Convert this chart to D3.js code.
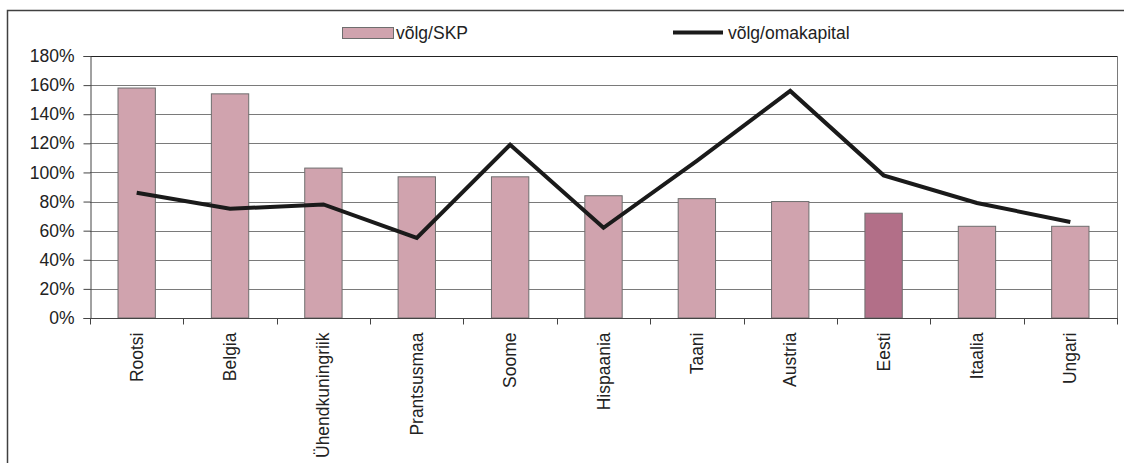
<!DOCTYPE html>
<html>
<head>
<meta charset="utf-8">
<script src="https://cdn.jsdelivr.net/npm/d3@7"></script>
<style>
  body { margin: 0; background: #fff; }
  svg { display: block; font-family: "Liberation Sans", Arial, sans-serif; }
</style>
</head>
<body>
<svg width="1124" height="463"></svg>
<script>
// data
var countries = ["Rootsi", "Belgia", "Ühendkuningriik", "Prantsusmaa", "Soome", "Hispaania",
                 "Taani", "Austria", "Eesti", "Itaalia", "Ungari"];
var debtGdp = [158, 154, 103, 97, 97, 84, 82, 80, 72, 63, 63];          // võlg/SKP
var debtEquity = [86, 75, 78, 55, 119, 62, 108, 156, 98, 79, 66];      // võlg/omakapital
var yTicks = [0, 20, 40, 60, 80, 100, 120, 140, 160, 180];
var highlight = "Eesti";

var fontSize = 17.5;
var svg = d3.select("svg");
var margin = { left: 90, top: 56, right: 1117, bottom: 318 };

// outer frame (runs off the right/bottom edge like the original)
svg.append("path")
    .attr("d", "M7.5,470 V10.5 H1130")
    .attr("fill", "none")
    .attr("stroke", "#404040")
    .attr("stroke-width", 1.5);

var x = d3.scaleBand()
    .domain(countries)
    .range([margin.left, margin.right])
    .paddingInner(0.6)
    .paddingOuter(0.3);

var xOuter = d3.scaleBand().domain(countries).range([margin.left, margin.right]);

var y = d3.scaleLinear().domain([0, 180]).range([margin.bottom, margin.top]);

// gridlines
svg.append("g")
    .selectAll("line")
    .data(yTicks.slice(1))
    .enter()
    .append("line")
    .attr("x1", margin.left).attr("x2", margin.right)
    .attr("y1", function (d) { return Math.round(y(d)) + 0.5; })
    .attr("y2", function (d) { return Math.round(y(d)) + 0.5; })
    .attr("stroke", function (d) { return d == 180 ? "#222" : "#7a7a7a"; })
    .attr("stroke-width", 1);

// right side of plot area
svg.append("line")
    .attr("x1", margin.right + 0.5).attr("x2", margin.right + 0.5)
    .attr("y1", margin.top).attr("y2", margin.bottom)
    .attr("stroke", "#7a7a7a");

// bars
svg.append("g")
    .selectAll("rect")
    .data(countries)
    .enter()
    .append("rect")
    .attr("x", function (d) { return x(d); })
    .attr("width", x.bandwidth())
    .attr("y", function (d, i) { return y(debtGdp[i]); })
    .attr("height", function (d, i) { return y(0) - y(debtGdp[i]); })
    .attr("fill", function (d) { return d == highlight ? "#b26f88" : "#d0a3ae"; })
    .attr("stroke", "#6e6e6e")
    .attr("stroke-width", 1);

// y axis
var yAxis = svg.append("g")
    .attr("transform", "translate(" + (margin.left + 0.5) + ",0)")
    .call(d3.axisLeft(y).tickValues(yTicks).tickSize(7).tickPadding(9)
        .tickFormat(function (d) { return d + "%"; }));
yAxis.selectAll("text").attr("font-size", fontSize).attr("fill", "#222").attr("font-family", "Liberation Sans, Arial, sans-serif");
yAxis.selectAll("line, path").attr("stroke", "#444");

// x axis
var xAxis = svg.append("g")
    .attr("transform", "translate(0," + (margin.bottom + 0.5) + ")");
xAxis.append("line")
    .attr("x1", margin.left).attr("x2", margin.right + 1)
    .attr("stroke", "#444");
xAxis.selectAll(".tick")
    .data(countries.concat(["end"]))
    .enter()
    .append("line")
    .attr("x1", function (d) { return d == "end" ? margin.right + 0.5 : Math.round(xOuter(d)) + 0.5; })
    .attr("x2", function (d) { return d == "end" ? margin.right + 0.5 : Math.round(xOuter(d)) + 0.5; })
    .attr("y1", 0).attr("y2", 6)
    .attr("stroke", "#444");
xAxis.selectAll("text")
    .data(countries)
    .enter()
    .append("text")
    .attr("transform", function (d) {
        return "translate(" + (xOuter(d) + xOuter.bandwidth() / 2 + 6) + ",14) rotate(-90)";
    })
    .attr("text-anchor", "end")
    .attr("font-size", fontSize)
    .attr("fill", "#222")
    .text(function (d) { return d; });

// line
var line = d3.line()
    .x(function (d, i) { return xOuter(countries[i]) + xOuter.bandwidth() / 2; })
    .y(function (d) { return y(d); });

svg.append("path")
    .datum(debtEquity)
    .attr("d", line)
    .attr("fill", "none")
    .attr("stroke", "#1a1a1a")
    .attr("stroke-width", 4)
    .attr("stroke-linejoin", "miter");

// legend
var legend = svg.append("g");
legend.append("rect")
    .attr("x", 342.5).attr("y", 27.5)
    .attr("width", 51).attr("height", 11)
    .attr("fill", "#d0a3ae").attr("stroke", "#6e6e6e");
legend.append("text")
    .attr("x", 396).attr("y", 38.5)
    .attr("font-size", fontSize).attr("fill", "#222")
    .text("võlg/SKP");
legend.append("line")
    .attr("x1", 673).attr("x2", 723)
    .attr("y1", 32.5).attr("y2", 32.5)
    .attr("stroke", "#1a1a1a").attr("stroke-width", 4);
legend.append("text")
    .attr("x", 728).attr("y", 38.5)
    .attr("font-size", fontSize).attr("fill", "#222")
    .text("võlg/omakapital");
</script>
</body>
</html>
